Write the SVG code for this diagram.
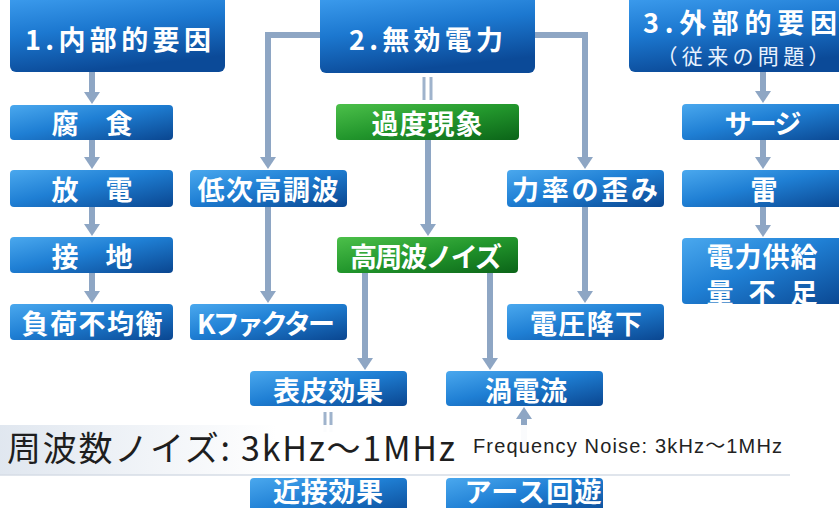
<svg xmlns="http://www.w3.org/2000/svg" width="839" height="508" viewBox="0 0 839 508">
<defs>
<linearGradient id="gb" x1="0" y1="0" x2="1" y2="1">
<stop offset="0" stop-color="#4aa8ee"/><stop offset="0.45" stop-color="#1f7fd4"/><stop offset="1" stop-color="#0a4690"/>
</linearGradient>
<linearGradient id="gh" x1="0" y1="0" x2="0.3" y2="1">
<stop offset="0" stop-color="#3f9ff0"/><stop offset="0.5" stop-color="#1c78d0"/><stop offset="1" stop-color="#0b4a98"/>
</linearGradient>
<linearGradient id="gg" x1="0" y1="0" x2="1" y2="1">
<stop offset="0" stop-color="#4cc04a"/><stop offset="0.5" stop-color="#22962c"/><stop offset="1" stop-color="#0b6418"/>
</linearGradient>
<linearGradient id="band" x1="0" y1="0" x2="1" y2="0">
<stop offset="0" stop-color="#dfe6ef"/><stop offset="0.35" stop-color="#ffffff"/><stop offset="1" stop-color="#ffffff"/>
</linearGradient>
<marker id="ah" viewBox="0 0 12 16" refX="4" refY="8" markerWidth="12" markerHeight="16" markerUnits="userSpaceOnUse" orient="auto">
<path d="M0,0 L12,8 L0,16 z" fill="#8ea6c4"/>
</marker>
<style>
.c{fill:none;stroke:#8ea6c4;stroke-width:6}
.a{marker-end:url(#ah)}
.eq{stroke:#9fb3cc;stroke-width:3}
.b{fill:url(#gb)}
.h{fill:url(#gh)}
.g{fill:url(#gg)}
.t{font-family:"Noto Sans CJK JP","Noto Sans",sans-serif;font-weight:bold;fill:#fff;font-size:27px;text-anchor:middle;dominant-baseline:central}
.ts{font-family:"Noto Sans CJK JP","Noto Sans",sans-serif;font-weight:normal;fill:#e8f2ff;font-size:21px;text-anchor:middle;dominant-baseline:central}
</style>
</defs>
<rect width="839" height="508" fill="#fff"/>
<g id="connectors">
<path class="c a" d="M92 72 V96"/>
<path class="c a" d="M92 140 V161"/>
<path class="c a" d="M92 207 V228"/>
<path class="c a" d="M92 273 V295"/>
<path class="c a" d="M320 35 H268 V161"/>
<path class="c a" d="M535 35 H585 V161"/>
<path class="c a" d="M268 207 V295"/>
<path class="c a" d="M585 207 V295"/>
<path class="c a" d="M428 140 V228"/>
<path class="c a" d="M365 273 V362"/>
<path class="c a" d="M490 273 V362"/>
<path class="c a" d="M763 72 V95"/>
<path class="c a" d="M763 140 V161"/>
<path class="c a" d="M763 207 V229"/>
<path class="c a" d="M524 450 V415"/>
<path class="eq" d="M424 77 V100 M431 77 V100"/>
<path class="eq" d="M325 412 V432 M331 412 V432"/>
</g>
<g id="n1"><rect class="h" x="10" y="-6" width="215" height="78" rx="6"/><text class="t" x="118" y="38" font-size="29" textLength="186">1.内部的要因</text></g>
<g id="n2"><rect class="b" x="10" y="105" width="163" height="35" rx="4"/><text class="t" x="92" y="122.5">腐　食</text></g>
<g id="n3"><rect class="b" x="10" y="170" width="163" height="37" rx="4"/><text class="t" x="92" y="188.5">放　電</text></g>
<g id="n4"><rect class="b" x="10" y="237" width="163" height="36" rx="4"/><text class="t" x="92" y="255">接　地</text></g>
<g id="n5"><rect class="b" x="10" y="304" width="163" height="36" rx="4"/><text class="t" x="92" y="322" font-size="28" textLength="141">負荷不均衡</text></g>
<g id="n6"><rect class="h" x="320" y="-6" width="215" height="79" rx="6"/><text class="t" x="426" y="38" font-size="29" textLength="154">2.無効電力</text></g>
<g id="n7"><rect class="g" x="336" y="104" width="183" height="36" rx="4"/><text class="t" x="427" y="122" font-size="28" textLength="111">過度現象</text></g>
<g id="n8"><rect class="h" x="629" y="-6" width="220" height="78" rx="6"/><text class="t" x="740" y="21.5" font-size="25" textLength="194">3.外部的要因</text><text class="ts" x="743" y="54.5" textLength="173">（従来の問題）</text></g>
<g id="n9"><rect class="b" x="682" y="104" width="165" height="36" rx="4"/><text class="t" x="763" y="122" textLength="77">サージ</text></g>
<g id="n10"><rect class="b" x="190" y="170" width="157" height="37" rx="4"/><text class="t" x="268" y="188.5" font-size="28" textLength="141">低次高調波</text></g>
<g id="n11"><rect class="b" x="507" y="170" width="157" height="37" rx="4"/><text class="t" x="585" y="188.5" font-size="28" textLength="146">力率の歪み</text></g>
<g id="n12"><rect class="b" x="682" y="170" width="165" height="37" rx="4"/><text class="t" x="764" y="188.5" font-size="28">雷</text></g>
<g id="n13"><rect class="g" x="337" y="237" width="181" height="36" rx="4"/><text class="t" x="426" y="255" font-size="26" textLength="152">高周波ノイズ</text></g>
<g id="n14"><rect class="b" x="682" y="238" width="165" height="66" rx="4"/><text class="t" x="762" y="255" font-size="23" textLength="111">電力供給</text><text class="t" x="762" y="291" font-size="23" textLength="111">量 不 足</text></g>
<g id="n15"><rect class="b" x="190" y="304" width="157" height="36" rx="4"/><text class="t" x="266" y="322" font-size="28" textLength="138">Kファクター</text></g>
<g id="n16"><rect class="b" x="507" y="304" width="157" height="36" rx="4"/><text class="t" x="586" y="322" font-size="28" textLength="112">電圧降下</text></g>
<g id="n17"><rect class="b" x="250" y="371" width="157" height="35" rx="4"/><text class="t" x="328" y="389" font-size="28" textLength="110">表皮効果</text></g>
<g id="n18"><rect class="b" x="446" y="371" width="157" height="35" rx="4"/><text class="t" x="526" y="389" font-size="28" textLength="82">渦電流</text></g>
<g id="band">
<rect x="0" y="425" width="790" height="50" fill="url(#band)" opacity="0.96"/>
<path d="M0 475 H790" stroke="#d6dde6" stroke-width="1.5"/>
<text x="7" y="461" font-family="'Noto Sans CJK JP','Noto Sans',sans-serif" font-size="34" fill="#1e1e1e" textLength="448">周波数ノイズ: 3kHz〜1MHz</text>
<text x="473" y="453" font-family="'Liberation Sans','Noto Sans CJK JP',sans-serif" font-size="20" fill="#222" textLength="309">Frequency Noise: 3kHz〜1MHz</text>
</g>
<g id="n19"><rect class="b" x="250" y="478" width="157" height="40" rx="4"/><text class="t" x="328" y="490" font-size="24" textLength="110">近接効果</text></g>
<g id="n20"><rect class="b" x="446" y="478" width="157" height="40" rx="4"/><text class="t" x="533" y="490" font-size="24" textLength="137">アース回遊</text></g>
</svg>
